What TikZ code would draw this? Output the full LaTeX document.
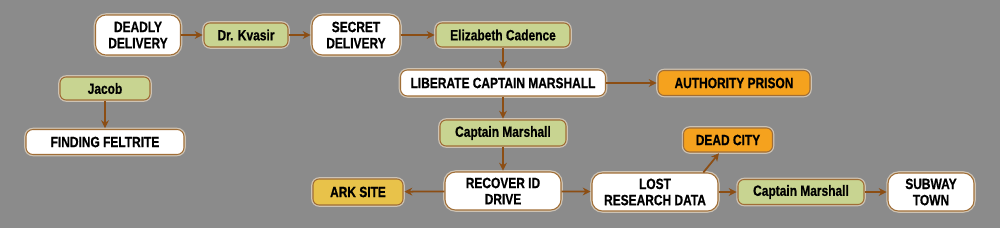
\documentclass[tikz,border=0pt]{standalone}
\usepackage{fontspec}
\setmainfont[FakeStretch=0.80, BoldFeatures={FakeBold=0.6}]{Liberation Sans}
\usepackage{tikz}
\usetikzlibrary{calc,arrows.meta}
\definecolor{bggray}{RGB}{139, 139, 139}
\definecolor{linkbrown}{RGB}{140, 78, 20}
\definecolor{edgebrown}{RGB}{160, 110, 55}
\definecolor{halo}{RGB}{205, 195, 180}
\definecolor{charfill}{RGB}{200, 212, 145}
\definecolor{placefill}{RGB}{245, 162, 30}
\definecolor{arkfill}{RGB}{232, 194, 74}

\begin{document}
\begin{tikzpicture}[>={Stealth[length=4.5pt, width=4.5pt]},
  box/.style={draw=edgebrown, line width=0.6pt, rounded corners=3.5pt,
    preaction={draw=halo, line width=2pt},
    font=\bfseries\fontsize{8.5}{9.2}\selectfont, align=center, inner sep=0pt},
  mission/.style={box, fill=white, rounded corners=6pt},
  person/.style={box, fill=charfill},
  place/.style={box, fill=placefill},
  arr/.style={->, linkbrown, line width=1pt, shorten >=0.5pt}]
  % Background
  \fill[bggray] (0,0) rectangle (20,-4.56);
  \useasboundingbox (0,0) rectangle (20,-4.56);

  % Top row
  \node[mission, minimum width=1.70cm, minimum height=0.80cm] (deadly) at (2.76,-0.70) {DEADLY\\DELIVERY};
  \node[person, minimum width=1.68cm, minimum height=0.48cm] (kvasir) at (4.92,-0.70) {Dr. Kvasir};
  \node[mission, minimum width=1.76cm, minimum height=0.80cm] (secret) at (7.12,-0.70) {SECRET\\DELIVERY};
  \node[person, minimum width=2.68cm, minimum height=0.48cm] (eliza) at (10.06,-0.70) {Elizabeth Cadence};

  % Middle
  \node[mission, rounded corners=4pt, minimum width=4.10cm, minimum height=0.52cm] (liberate) at (10.06,-1.66) {LIBERATE CAPTAIN MARSHALL};
  \node[place, minimum width=3.04cm, minimum height=0.50cm] (prison) at (14.68,-1.66) {AUTHORITY PRISON};
  \node[person, minimum width=2.52cm, minimum height=0.52cm] (marshA) at (10.06,-2.66) {Captain Marshall};

  % Jacob branch
  \node[person, minimum width=1.80cm, minimum height=0.46cm] (jacob) at (2.10,-1.77) {Jacob};
  \node[mission, rounded corners=4pt, minimum width=3.16cm, minimum height=0.50cm] (feltrite) at (2.10,-2.84) {FINDING FELTRITE};

  % Bottom row
  \node[box, fill=arkfill, minimum width=1.80cm, minimum height=0.52cm] (ark) at (7.16,-3.84) {ARK SITE};
  \node[mission, minimum width=2.32cm, minimum height=0.76cm] (recover) at (10.06,-3.82) {RECOVER ID\\DRIVE};
  \node[mission, minimum width=2.52cm, minimum height=0.76cm] (lost) at (13.10,-3.84) {LOST\\RESEARCH DATA};
  \node[place, minimum width=1.78cm, minimum height=0.48cm] (deadcity) at (14.56,-2.80) {DEAD CITY};
  \node[person, minimum width=2.52cm, minimum height=0.50cm] (marshB) at (16.02,-3.84) {Captain Marshall};
  \node[mission, minimum width=1.72cm, minimum height=0.76cm] (subway) at (18.62,-3.84) {SUBWAY\\TOWN};

  % Links
  \draw[arr] (deadly) -- (kvasir);
  \draw[arr] (kvasir) -- (secret);
  \draw[arr] (secret) -- (eliza);
  \draw[arr] (eliza) -- (liberate);
  \draw[arr] (liberate) -- (prison);
  \draw[arr] (liberate) -- (marshA);
  \draw[arr] (marshA) -- (recover);
  \draw[arr] (recover) -- (ark);
  \draw[arr] (recover) -- (lost);
  \draw[arr] (lost.22) -- (deadcity.236);
  \draw[arr] (lost) -- (marshB);
  \draw[arr] (marshB) -- (subway);
  \draw[arr] (jacob) -- (feltrite);
\end{tikzpicture}
\end{document}
